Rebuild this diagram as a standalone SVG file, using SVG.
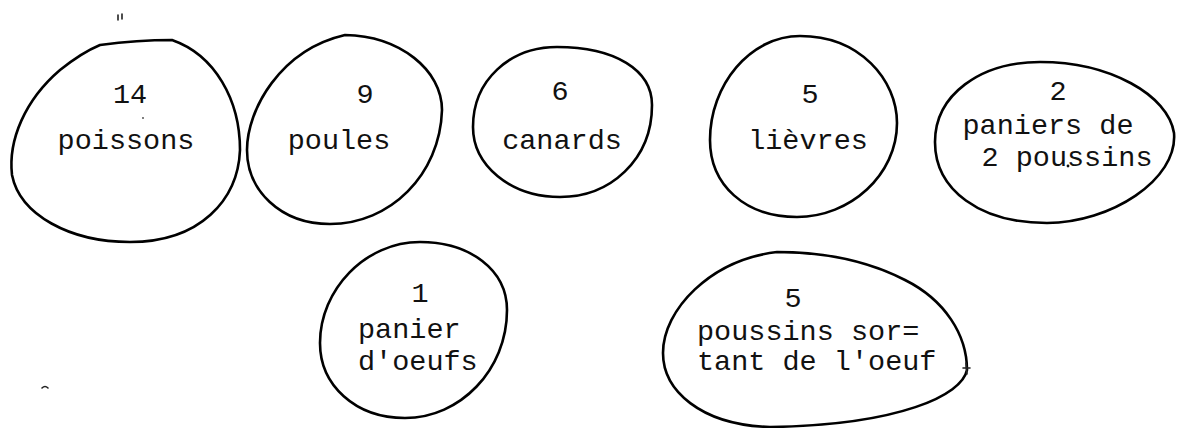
<svg xmlns="http://www.w3.org/2000/svg" width="1177" height="428" viewBox="0 0 1177 428">
<style>
.blob{fill:none;stroke:#000;stroke-width:2.6;stroke-linejoin:round;stroke-linecap:round}
.t{font-family:"Liberation Mono","DejaVu Sans Mono",monospace;font-size:28.5px;fill:#111}
.c{text-anchor:middle}
.mark{fill:none;stroke:#222;stroke-width:1.6;stroke-linecap:round}
</style>
<rect width="1177" height="428" fill="#fff"/>
<g id="poissons">
<path class="blob" d="M100 45 C130 41 155 40 172 40 C215 55 240 100 240 150 C238 200 200 242 130 242 C70 242 20 215 12 175 C8 140 25 100 60 70 C75 58 88 50 100 45 Z"/>
<text class="t c" x="130" y="103">14</text>
<text class="t c" x="126" y="149">poissons</text>
</g>
<g id="poules">
<path class="blob" d="M345 35 C400 36 442 70 442 110 C440 175 390 224 330 224 C280 224 247 190 247 150 C247 110 280 50 345 35 Z"/>
<text class="t c" x="365" y="103">9</text>
<text class="t c" x="339" y="149">poules</text>
</g>
<g id="canards">
<path class="blob" d="M557 47 C615 47 652 70 652 105 C652 160 610 197 560 197 C510 197 473 165 473 127 C473 80 510 47 557 47 Z"/>
<text class="t c" x="560" y="100">6</text>
<text class="t c" x="562" y="149">canards</text>
</g>
<g id="lievres">
<path class="blob" d="M800 36 C860 36 897 80 897 123 C897 175 850 217 797 217 C745 217 710 185 710 140 C710 85 750 36 800 36 Z"/>
<text class="t c" x="810" y="103">5</text>
<text class="t c" x="808" y="149">lièvres</text>
</g>
<g id="paniers">
<path class="blob" d="M1040 62 C1110 62 1168 95 1174 133 C1178 180 1110 223 1047 223 C980 223 935 190 935 142 C935 95 980 62 1040 62 Z"/>
<text class="t c" x="1058" y="100">2</text>
<text class="t c" x="1048" y="134">paniers de</text>
<text class="t c" x="1067" y="166">2 poussins</text>
<circle cx="1068" cy="166" r="1.4" fill="#111"/>
</g>
<g id="panier-oeufs">
<path class="blob" d="M420 242 C470 242 507 270 507 310 C507 370 460 418 405 418 C355 418 320 385 320 343 C320 290 365 242 420 242 Z"/>
<text class="t c" x="420" y="302">1</text>
<text class="t" x="358" y="338">panier</text>
<text class="t" x="358" y="370">d'oeufs</text>
</g>
<g id="poussins-oeuf">
<path class="blob" d="M777 252 C830 252 870 262 905 280 C945 300 967 335 967 370 C962 395 900 425 770 427 C700 425 663 390 663 353 C663 310 710 260 777 252 Z"/>
<path class="mark" d="M963 368 L970 368 M966 363 L967 374"/>
<text class="t c" x="793" y="307">5</text>
<text class="t" x="697" y="340">poussins sor=</text>
<text class="t" x="697" y="370">tant de l'oeuf</text>
</g>
<g id="connectors"></g>
<g id="marks">
<path class="mark" d="M118 15 L118 20 M122 14 L122 19"/>
<circle cx="143" cy="118" r="0.9" fill="#444"/>
<path class="mark" d="M42 388 q3 -3 6 0"/>
</g>
</svg>
